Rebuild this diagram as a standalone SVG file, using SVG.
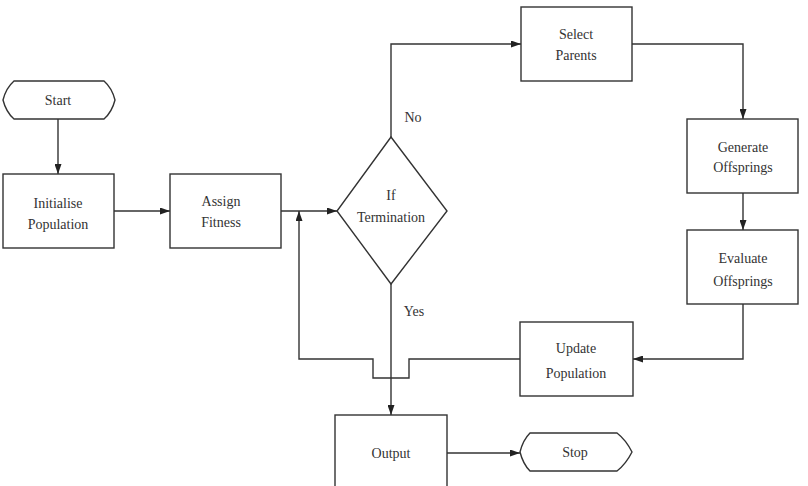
<svg xmlns="http://www.w3.org/2000/svg" width="808" height="486" viewBox="0 0 808 486">
<defs>
<style>
.n{fill:#fff;stroke:#333;stroke-width:1.4}
.c{fill:none;stroke:#333;stroke-width:1.4}
text{font-family:"Liberation Serif","Times New Roman",serif;font-size:14px;fill:#333;text-anchor:middle}
</style>
<marker id="ah" markerUnits="userSpaceOnUse" markerWidth="10" markerHeight="7" refX="10" refY="3.5" orient="auto">
<path d="M0,0 L10,3.5 L0,7 z" fill="#222"/>
</marker>
</defs>
<rect width="808" height="486" fill="#fff"/>
<g id="connectors">
<path class="c" d="M58,119 V174" marker-end="url(#ah)"/>
<path class="c" d="M114,211 H170" marker-end="url(#ah)"/>
<path class="c" d="M281,211 H337" marker-end="url(#ah)"/>
<path class="c" d="M520,359 H409 V378 H373 V359 H299 V211" marker-end="url(#ah)"/>
<path class="c" d="M391,137 V44 H521" marker-end="url(#ah)"/>
<path class="c" d="M632,44 H743 V119" marker-end="url(#ah)"/>
<path class="c" d="M743,193 V230" marker-end="url(#ah)"/>
<path class="c" d="M743,304 V359 H633" marker-end="url(#ah)"/>
<path class="c" d="M391,284 V415" marker-end="url(#ah)"/>
<path class="c" d="M447,453 H520" marker-end="url(#ah)"/>
<text x="413" y="122">No</text>
<text x="414" y="316">Yes</text>
</g>
<g id="start">
<path class="n" d="M14,81 H104 Q112,88 115,100 Q112,112 104,119 H14 Q6,112 3,100 Q6,88 14,81 Z"/>
<text x="58" y="105">Start</text>
</g>
<g id="init">
<rect class="n" x="3" y="174" width="111" height="74"/>
<text x="58" y="208">Initialise</text>
<text x="58" y="229">Population</text>
</g>
<g id="assign">
<rect class="n" x="170" y="174" width="111" height="74"/>
<text x="221" y="206">Assign</text>
<text x="221" y="227">Fitness</text>
</g>
<g id="decision">
<path class="n" d="M391,137 L447,211 L391,284 L337,211 Z"/>
<text x="391" y="200">If</text>
<text x="391" y="222">Termination</text>
</g>
<g id="select">
<rect class="n" x="521" y="7" width="111" height="74"/>
<text x="576" y="39">Select</text>
<text x="576" y="60">Parents</text>
</g>
<g id="generate">
<rect class="n" x="687" y="119" width="111" height="74"/>
<text x="743" y="152">Generate</text>
<text x="743" y="172">Offsprings</text>
</g>
<g id="evaluate">
<rect class="n" x="687" y="230" width="111" height="74"/>
<text x="743" y="263">Evaluate</text>
<text x="743" y="286">Offsprings</text>
</g>
<g id="update">
<rect class="n" x="520" y="322" width="113" height="74"/>
<text x="576" y="353">Update</text>
<text x="576" y="378">Population</text>
</g>
<g id="output">
<rect class="n" x="335" y="415" width="112" height="80"/>
<text x="391" y="458">Output</text>
</g>
<g id="stop">
<path class="n" d="M530,433 H617 Q626,440 632,452 Q626,464 617,471 H530 Q523,464 520,452 Q523,440 530,433 Z"/>
<text x="575" y="457">Stop</text>
</g>
</svg>
